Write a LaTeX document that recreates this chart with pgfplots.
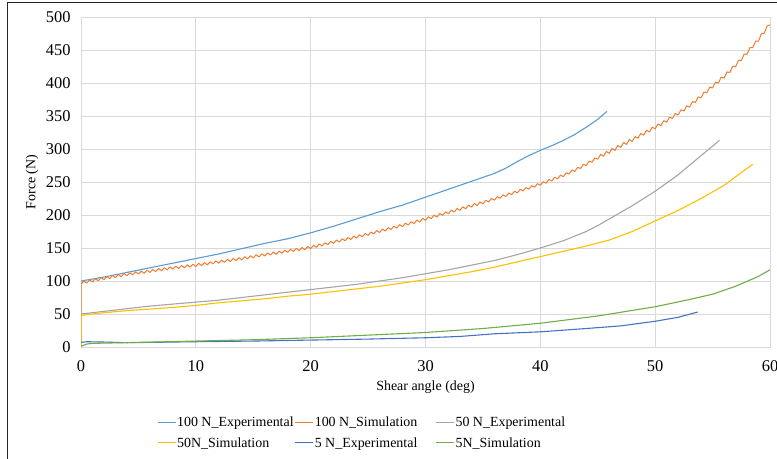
\documentclass[border=0pt]{standalone}
\usepackage{fontspec}
\setmainfont{Liberation Serif}
\usepackage{pgfplots}
\pgfplotsset{compat=1.18}
\definecolor{cLB}{HTML}{5B9BD5}
\definecolor{cOR}{HTML}{ED7D31}
\definecolor{cGR}{HTML}{A5A5A5}
\definecolor{cYE}{HTML}{FFC000}
\definecolor{cBL}{HTML}{4472C4}
\definecolor{cGN}{HTML}{70AD47}
\definecolor{gridc}{HTML}{D9D9D9}
\begin{document}
\begin{tikzpicture}
\useasboundingbox (-81bp,-112bp) rectangle (696bp,347bp);
\draw[black!85, line width=1bp] (-73bp,-112bp) -- (-73bp,344bp) -- (696bp,344bp);
\begin{axis}[
  at={(0,0)}, anchor=south west,
  scale only axis, width=689bp, height=330bp,
  xmin=0, xmax=60, ymin=0, ymax=500,
  xtick={0,10,...,60}, ytick={0,50,...,500},
  grid=major, major grid style={draw=gridc, line width=0.8bp},
  axis line style={draw=gridc, line width=0.8bp},
  major tick length=0pt,
  /pgf/number format/assume math mode=true,
  tick label style={font=\fontsize{16.5}{18}\selectfont},
  yticklabel style={xshift=-7bp},
  xticklabel style={yshift=-10bp},
  xlabel={Shear angle (deg)},
  ylabel={Force (N)},
  every axis x label/.style={at={(axis description cs:0.5,-0.121)}, anchor=center, font=\fontsize{14}{16}\selectfont},
  every axis y label/.style={at={(axis description cs:-0.0711,0.5)}, rotate=90, anchor=center, font=\fontsize{14}{16}\selectfont},
  legend columns=3,
  legend cell align=left,
  legend image code/.code={\draw[#1] (0bp,0bp) -- (18bp,0bp);},
  legend style={at={(axis description cs:0.110,-0.209)}, anchor=north west, draw=none, fill=none,
    font=\fontsize{14}{16}\selectfont, inner sep=0pt, row sep=7bp,
    nodes={inner xsep=1bp, inner ysep=1bp},
    /tikz/column 2/.style={column sep=0bp},
    /tikz/column 4/.style={column sep=17bp}},
  every axis plot/.append style={line width=1.1bp, line join=round},
]
% 100 N Experimental
\addplot[cLB] coordinates {(0,100) (2,106) (4,113) (6,120) (8,127) (10,134) (12,141) (14,149) (16,157) (18,164) (20,173) (22,183) (24,194) (26,205) (28,215) (30,227) (32,239) (34,251) (36,263) (37,271) (38,281) (39,290) (40,298) (41,305) (42,313) (43,322) (44,333) (45,345) (45.8,357)};
\addlegendentry{100 N\_Experimental}
% 100 N Simulation
\addplot[cOR, line width=1bp] coordinates {(0,0) (0,97)
(0,95) (0.25,99.9) (0.5,96.8) (0.75,101.6)
(1,98.5) (1.25,103.4) (1.5,100.3) (1.75,105.1)
(2,102) (2.25,106.8) (2.5,103.5) (2.75,108.3)
(3,105) (3.25,109.8) (3.5,106.5) (3.75,111.3)
(4,108) (4.25,112.6) (4.5,109.3) (4.75,113.9)
(5,110.5) (5.25,115.1) (5.5,111.8) (5.75,116.4)
(6,113) (6.25,117.6) (6.5,114.3) (6.75,118.9)
(7,115.5) (7.25,120.1) (7.5,116.8) (7.75,121.4)
(8,118) (8.25,122.5) (8.5,119) (8.75,123.5)
(9,120) (9.25,124.5) (9.5,121) (9.75,125.5)
(10,122) (10.25,126.6) (10.5,123.3) (10.75,127.9)
(11,124.5) (11.25,129.1) (11.5,125.8) (11.75,130.4)
(12,127) (12.25,131.6) (12.5,128.3) (12.75,132.9)
(13,129.5) (13.25,134.1) (13.5,130.8) (13.75,135.4)
(14,132) (14.25,136.8) (14.5,133.5) (14.75,138.3)
(15,135) (15.25,139.8) (15.5,136.5) (15.75,141.3)
(16,138) (16.25,142.6) (16.5,139.3) (16.75,143.9)
(17,140.5) (17.25,145.3) (17.5,142) (17.75,146.8)
(18,143.5) (18.25,148.1) (18.5,144.8) (18.75,149.4)
(19,146) (19.25,150.8) (19.5,147.5) (19.75,152.3)
(20,149) (20.25,154) (20.5,151) (20.75,156)
(21,153) (21.25,158) (21.5,155) (21.75,160)
(22,157) (22.25,162) (22.5,159) (22.75,164)
(23,161) (23.25,166) (23.5,163) (23.75,168)
(24,165) (24.25,170) (24.5,167) (24.75,172)
(25,169) (25.25,174.1) (25.5,171.3) (25.75,176.4)
(26,173.5) (26.25,178.6) (26.5,175.8) (26.75,180.9)
(27,178) (27.25,183.1) (27.5,180.3) (27.75,185.4)
(28,182.5) (28.25,187.6) (28.5,184.8) (28.75,189.9)
(29,187) (29.25,192.3) (29.5,189.5) (29.75,194.8)
(30,192) (30.25,197.3) (30.5,194.5) (30.75,199.8)
(31,197) (31.25,202.3) (31.5,199.5) (31.75,204.8)
(32,202) (32.25,207.3) (32.5,204.5) (32.75,209.8)
(33,207) (33.25,212.3) (33.5,209.5) (33.75,214.8)
(34,212) (34.25,217.3) (34.5,214.5) (34.75,219.8)
(35,217) (35.25,222.4) (35.5,219.8) (35.75,225.1)
(36,222.5) (36.25,227.9) (36.5,225.3) (36.75,230.6)
(37,228) (37.25,233.4) (37.5,230.8) (37.75,236.1)
(38,233.5) (38.25,238.9) (38.5,236.3) (38.75,241.6)
(39,239) (39.25,244.5) (39.5,242) (39.75,247.5)
(40,245) (40.25,250.6) (40.5,248.3) (40.75,253.9)
(41,251.5) (41.25,257.1) (41.5,254.8) (41.75,260.4)
(42,258) (42.25,264) (42.5,262) (42.75,268)
(43,266) (43.25,272.3) (43.5,270.5) (43.75,276.8)
(44,275) (44.25,281.5) (44.5,280) (44.75,286.5)
(45,284.5) (45.25,291.8) (45.5,289) (45.75,296.3)
(46,293.5) (46.25,300.8) (46.5,298) (46.75,305.3)
(47,302.5) (47.25,309.8) (47.5,307) (47.75,314.3)
(48,311.5) (48.25,318.9) (48.5,316.3) (48.75,323.6)
(49,321) (49.25,328.4) (49.5,325.8) (49.75,333.1)
(50,330.5) (50.25,338) (50.5,335.5) (50.75,343)
(51,340.5) (51.25,348.3) (51.5,346) (51.75,353.8)
(52,351.5) (52.25,359.5) (52.5,357.5) (52.75,365.5)
(53,363.5) (53.25,372) (53.5,370.5) (53.75,379)
(54,377.5) (54.25,386.3) (54.5,385) (54.75,393.8)
(55,392.5) (55.25,401.3) (55.5,400) (55.75,408.8)
(56,407.5) (56.25,416.8) (56.5,416) (56.75,425.3)
(57,424.5) (57.25,434.3) (57.5,434) (57.75,443.8)
(58,443.5) (58.25,453.5) (58.5,453.5) (58.75,463.5)
(59,463.5) (59.25,474.5) (59.5,475.5) (59.75,486.5)
(60,488)};
\addlegendentry{100 N\_Simulation}
% 50 N Experimental
\addplot[cGR] coordinates {(0,50) (2,54) (4,58) (6,62) (8,65) (10,68) (12,71) (14,75) (16,79) (18,83) (20,87) (22,91) (24,95) (26,100) (28,105) (30,111) (32,117) (34,124) (36,131) (38,140) (40,150) (42,161) (44,175) (45,184) (46,194) (48,214) (50,236) (52,261) (54,290) (55.6,313)};
\addlegendentry{50 N\_Experimental}
% 50N Simulation
\addplot[cYE] coordinates {(0,0) (0,48) (2,52) (4,55) (6,57.5) (8,60) (10,63) (12,67) (14,70) (16,73) (18,77) (20,80) (22,84) (24,88) (26,92) (28,97) (30,102) (32,108) (34,114) (36,121) (38,129) (40,137) (42,145) (44,153) (46,162) (48,175) (50,191) (52,207) (54,225) (56,245) (58.5,277)};
\addlegendentry{50N\_Simulation}
% 5 N Experimental
\addplot[cBL] coordinates {(0,7) (0.5,8) (2,7.5) (4,6.5) (6,7) (10,8) (15,9) (20,10.5) (25,12) (30,14) (33,16) (36,20) (40,23) (44,28) (47,32) (50,39) (52,45) (53.7,53)};
\addlegendentry{5 N\_Experimental}
% 5N Simulation
\addplot[cGN] coordinates {(0,1) (0.5,4.5) (1,5.5) (5,7) (10,9) (15,11) (20,14) (25,18) (30,22) (35,28) (40,36) (45,47) (50,61) (53,72) (55,80) (57,92) (59,107) (60,117)};
\addlegendentry{5N\_Simulation}
\end{axis}
\end{tikzpicture}
\end{document}
